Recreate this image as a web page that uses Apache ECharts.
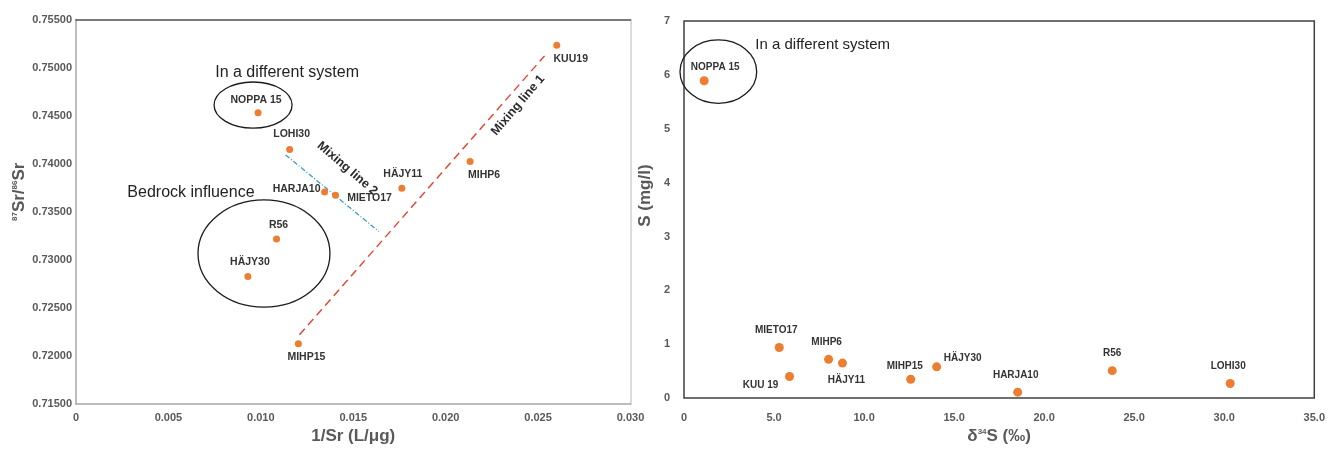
<!DOCTYPE html>
<html><head><meta charset="utf-8">
<script src="https://cdn.jsdelivr.net/npm/echarts@6/dist/echarts.min.js"></script>
<style>html,body{margin:0;padding:0;background:#fff}#c{width:1328px;height:450px}</style>
</head><body><div id="c"></div>
<script>
// ---- Left panel: 87Sr/86Sr vs 1/Sr ----
const srSites = ['KUU19','NOPPA 15','LOHI30','HARJA10','MIETO17','HÄJY11','MIHP6','R56','HÄJY30','MIHP15'];
const invSr   = [0.02601,0.00985,0.01156,0.01345,0.01404,0.01763,0.02132,0.01085,0.00930,0.01203];
const srRatio = [0.75232,0.74531,0.74148,0.73705,0.73672,0.73746,0.74022,0.73218,0.72826,0.72128];

// mixing lines (end points, data units)
const mix1X = [0.01209, 0.02535];
const mix1Y = [0.72221, 0.75122];
const mix2X = [0.01134, 0.01638];
const mix2Y = [0.74092, 0.73296];

// ---- Right panel: S vs d34S ----
const sSites = ['NOPPA 15','MIETO17','KUU 19','MIHP6','HÄJY11','MIHP15','HÄJY30','HARJA10','R56','LOHI30'];
const d34S   = [1.12,5.29,5.86,8.03,8.80,12.59,14.03,18.53,23.78,30.33];
const sConc  = [5.89,0.94,0.40,0.72,0.65,0.35,0.58,0.11,0.51,0.27];

// annotation layout (data units)
const leftEllipses = [[0.00958,0.74610,0.00211,0.00240],[0.01017,0.73066,0.00357,0.00557]];
const leftTexts = ['In a different system','Bedrock influence'];
const leftTextPos = [[0.01142,0.74953],[0.00622,0.73695]];
const leftMixTexts = ['Mixing line 2','Mixing line 1'];
const leftMixPos = [[0.01468,0.73950,-40.5],[0.02391,0.74608,49.5]];
const rightEllipses = [[1.907,6.06,2.13,0.589]];
const rightTexts = ['In a different system'];
const rightTextPos = [[7.70,6.566]];

const srLabelOffset = {'KUU19':[14,14],'NOPPA 15':[-2,-13],'LOHI30':[2,-15],'HARJA10':[-28,-3],'MIETO17':[34,3],
  'HÄJY11':[1,-14],'MIHP6':[14,13],'R56':[2,-14],'HÄJY30':[2,-14],'MIHP15':[8,13]};
const sLabelOffset = {'NOPPA 15':[11,-14],'MIETO17':[-3,-17],'KUU 19':[-29,9],'MIHP6':[-2,-17],'HÄJY11':[4,17],
  'MIHP15':[-6,-13],'HÄJY30':[26,-9],'HARJA10':[-2,-17],'R56':[0,-17],'LOHI30':[-2,-17]};

const FONT = 'Liberation Sans, Arial, sans-serif';
const tickStyle = {color:'#595959', fontWeight:'bold', fontSize:11, fontFamily:FONT};
const ORANGE = '#ed7d31';

function ellipseSeries(xi, data){
  return {type:'custom', xAxisIndex:xi, yAxisIndex:xi, silent:true, clip:false, z:5,
    data: data,
    renderItem(p, api){
      const c = api.coord([api.value(0), api.value(1)]);
      const s = api.size([api.value(2), api.value(3)]);
      return {type:'ellipse', shape:{cx:c[0], cy:c[1], rx:s[0], ry:s[1]},
        style:{fill:'none', stroke:'#1a1a1a', lineWidth:1.3}};
    }};
}
function textSeries(xi, texts, pos, style){
  return {type:'custom', xAxisIndex:xi, yAxisIndex:xi, silent:true, clip:false, z:6,
    data: pos.map(p => [p[0], p[1], p[2]||0]),
    renderItem(p, api){
      const c = api.coord([api.value(0), api.value(1)]);
      return {type:'text', x:c[0], y:c[1], rotation: api.value(2)*Math.PI/180,
        style:Object.assign({text: texts[p.dataIndex], align:'center', verticalAlign:'middle'}, style)};
    }};
}

const nameRich = {
  big:{fontSize:17, fontWeight:'bold', color:'#595959', fontFamily:FONT},
  sup:{fontSize:8, fontWeight:'bold', color:'#595959', fontFamily:FONT, verticalAlign:'top', padding:[0,0,8,0]}
};

const chart = echarts.init(document.getElementById('c'), null, {renderer:'canvas'});
chart.setOption({
  backgroundColor:'#ffffff',
  animation:false,
  grid:[
    {left:76, right:697.5, top:19.5, bottom:39.5, show:false},
    {left:684, right:10.5, top:21, bottom:42.5, show:true, borderColor:'#404040', borderWidth:1.5}
  ],
  xAxis:[
    {type:'value', gridIndex:0, min:0, max:0.03, interval:0.005,
     name:'1/Sr (L/μg)', nameLocation:'middle', nameGap:19,
     nameTextStyle:{fontSize:17, fontWeight:'bold', color:'#595959', fontFamily:FONT},
     axisLine:{show:true, onZero:false, lineStyle:{color:'#a6a6a6', width:1.5}}, axisTick:{show:false}, splitLine:{show:false},
     axisLabel:Object.assign({margin:8, formatter:v => v===0 ? '0' : v.toFixed(3)}, tickStyle)},
    {type:'value', gridIndex:0, position:'top', min:0, max:0.03, interval:0.005,
     axisLine:{show:true, onZero:false, lineStyle:{color:'#505050', width:1.5}}, axisTick:{show:false}, axisLabel:{show:false}, splitLine:{show:false}},
    {type:'value', gridIndex:1, min:0, max:35, interval:5,
     name:'{big|δ}{sup|34}{big|S (‰)}', nameLocation:'middle', nameGap:22,
     nameTextStyle:{rich:nameRich},
     axisLine:{show:false}, axisTick:{show:false}, splitLine:{show:false},
     axisLabel:Object.assign({margin:14, formatter:v => v===0 ? '0' : v.toFixed(1)}, tickStyle)}
  ],
  yAxis:[
    {type:'value', gridIndex:0, min:0.715, max:0.755, interval:0.005,
     name:'{sup|87}{big|Sr/}{sup|86}{big|Sr}', nameLocation:'middle', nameGap:48, nameRotate:90,
     nameTextStyle:{padding:[0,0,0,40], rich:nameRich},
     axisLine:{show:true, onZero:false, lineStyle:{color:'#a6a6a6', width:1.5}}, axisTick:{show:false}, splitLine:{show:false},
     axisLabel:Object.assign({margin:4, formatter:v => v.toFixed(5)}, tickStyle)},
    {type:'value', gridIndex:0, position:'right', min:0.715, max:0.755, interval:0.005,
     axisLine:{show:true, onZero:false, lineStyle:{color:'#cfcfcf', width:1.5}}, axisTick:{show:false}, axisLabel:{show:false}, splitLine:{show:false}},
    {type:'value', gridIndex:1, min:0, max:7, interval:1,
     name:'S (mg/l)', nameLocation:'middle', nameGap:30,
     nameTextStyle:{fontSize:17, fontWeight:'bold', color:'#595959', fontFamily:FONT, padding:[0,0,0,28]},
     axisLine:{show:false}, axisTick:{show:false}, splitLine:{show:false},
     axisLabel:Object.assign({margin:14}, tickStyle)}
  ],
  series:[
    {type:'line', xAxisIndex:0, yAxisIndex:0, data: mix1X.map((x,i)=>[x, mix1Y[i]]), showSymbol:false, silent:true, z:3,
     lineStyle:{color:'#e8402f', width:1.4, type:[8,5]}},
    {type:'line', xAxisIndex:0, yAxisIndex:0, data: mix2X.map((x,i)=>[x, mix2Y[i]]), showSymbol:false, silent:true, z:3,
     lineStyle:{color:'#3b9cc6', width:1.3, type:[5,2,1,2]}},
    {type:'scatter', xAxisIndex:0, yAxisIndex:0, symbolSize:7, z:10,
     itemStyle:{color:ORANGE, opacity:1},
     data: srSites.map((n,i)=>({name:n, value:[invSr[i], srRatio[i]],
       label:{offset:srLabelOffset[n]}})),
     label:{show:true, position:'inside', formatter:'{b}', color:'#333', fontWeight:'bold', fontSize:10.5, fontFamily:FONT}},
    {type:'scatter', xAxisIndex:2, yAxisIndex:2, symbolSize:9, z:10,
     itemStyle:{color:ORANGE, opacity:1},
     data: sSites.map((n,i)=>({name:n, value:[d34S[i], sConc[i]],
       label:{offset:sLabelOffset[n]}})),
     label:{show:true, position:'inside', formatter:'{b}', color:'#333', fontWeight:'bold', fontSize:10, fontFamily:FONT}},
    ellipseSeries(0, leftEllipses),
    Object.assign(ellipseSeries(2, rightEllipses), {xAxisIndex:2, yAxisIndex:2}),
    textSeries(0, leftTexts, leftTextPos, {fontSize:16, fill:'#222', fontFamily:FONT}),
    textSeries(0, leftMixTexts, leftMixPos, {fontSize:12.5, fontWeight:'bold', fill:'#2a2a2a', fontFamily:FONT}),
    Object.assign(textSeries(2, rightTexts, rightTextPos, {fontSize:15, fill:'#222', fontFamily:FONT}), {xAxisIndex:2, yAxisIndex:2})
  ]
});
</script></body></html>
